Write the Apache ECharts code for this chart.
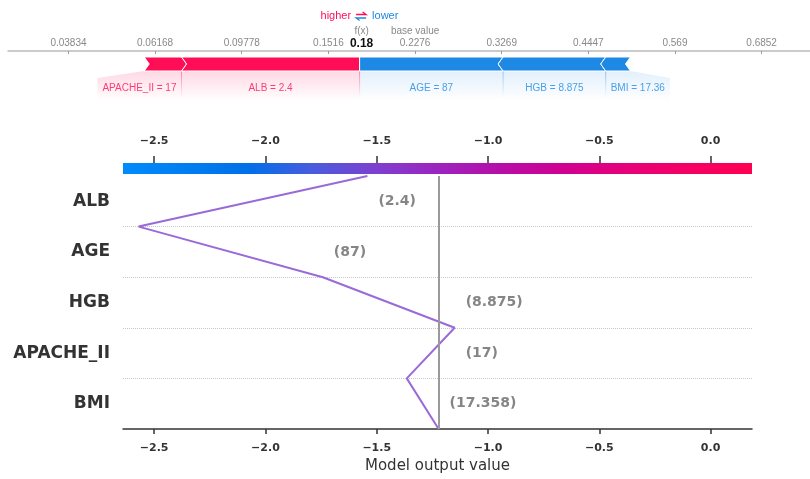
<!DOCTYPE html>
<html>
<head>
<meta charset="utf-8">
<script src="https://cdn.jsdelivr.net/npm/echarts@6/dist/echarts.min.js"></script>
<style>
  html, body { margin: 0; padding: 0; background: #fff; }
  #chart { width: 810px; height: 479px; }
</style>
</head>
<body>
<div id="chart"></div>
<script>
// SHAP explanation of one prediction: force plot (probability scale) over a decision plot (log-odds)
const features = ['ALB', 'AGE', 'HGB', 'APACHE_II', 'BMI'];      // decision plot order, top to bottom
const featureValues = [2.4, 87, 8.875, 17, 17.358];
const shapValues = [1.028, -0.828, -0.592, 0.215, -0.143];       // log-odds contributions
const baseValue = -1.222;                                        // expected model output (log-odds)
const probTicks = [0.03834, 0.06168, 0.09778, 0.1516, 0.2276, 0.3269, 0.4447, 0.569, 0.6852];
const outputTicks = [-2.5, -2.0, -1.5, -1.0, -0.5, 0.0];
const outputRange = [-2.64, 0.186];
const forceRange = [-3.571, 1.057];

const RED = '#ff0d57';
const BLUE = '#1e88e5';
const FONT = '"Liberation Sans", Arial, sans-serif';      // force plot text
const PLOT_FONT = '"DejaVu Sans", sans-serif';            // decision plot text

const sigmoid = v => 1 / (1 + Math.exp(-v));
const logit = p => Math.log(p / (1 - p));
const fmt4 = v => String(parseFloat(v.toPrecision(4)));
const fx = baseValue + shapValues.reduce((a, b) => a + b, 0);

// cumulative decision path, built from the bottom row upwards
const bottomUp = features.map((_, i) => features.length - 1 - i);
const path = [[baseValue, 0]];
let acc = baseValue;
bottomUp.forEach((fi, k) => { acc += shapValues[fi]; path.push([acc, k + 1]); });
const valueLabels = bottomUp.map((fi, k) => [
  Math.max(path[k][0], path[k + 1][0]), k + 0.5, '(' + featureValues[fi] + ')'
]);

// force plot segments: positive ones stack leftwards from f(x), negative ones rightwards
const order = shapValues.map((v, i) => ({ i, v }));
const posSegs = [], negSegs = [];
let cur = fx;
order.filter(d => d.v > 0).sort((a, b) => b.v - a.v).forEach(d => {
  posSegs.push({ lo: cur - d.v, hi: cur, label: features[d.i] + ' = ' + fmt4(featureValues[d.i]) });
  cur -= d.v;
});
cur = fx;
order.filter(d => d.v < 0).sort((a, b) => a.v - b.v).forEach(d => {
  negSegs.push({ lo: cur, hi: cur - d.v, label: features[d.i] + ' = ' + fmt4(featureValues[d.i]) });
  cur -= d.v;
});

const measureCtx = document.createElement('canvas').getContext('2d');
const LABEL_FONT = '10px ' + FONT;
function textWidth(t) { measureCtx.font = LABEL_FONT; return measureCtx.measureText(t).width; }

function fade(color, a0, a1) {
  const c = echarts.color;
  return new echarts.graphic.LinearGradient(0, 0, 0, 1, [
    { offset: 0, color: c.modifyAlpha(color, a0) },
    { offset: 1, color: c.modifyAlpha(color, a1) }
  ]);
}

function renderForce(params, api) {
  const cs = params.coordSys;
  const top = cs.y + 6, bot = cs.y + 20, mid = (top + bot) / 2;
  const tip = 5, regionDepth = 30;
  const px = v => api.coord([v, 0])[0];
  const children = [];
  const fxPx = px(fx);

  // translucent label areas + labels
  let edge = fxPx;
  posSegs.forEach((s) => {
    const a = px(s.lo), b = px(s.hi);
    const w = textWidth(s.label) + 10;
    const right = edge;
    const left = Math.min(a, right - w);
    const pts = [[b, bot], [a, bot]];
    if (left < a) pts.push([left, bot + 7]);
    pts.push([left, bot + regionDepth], [right, bot + regionDepth], [right, bot]);
    children.push({ type: 'polygon', shape: { points: pts }, style: { fill: fade(RED, 0.16, 0) } });
    children.push({ type: 'line', shape: { x1: b, y1: bot, x2: b, y2: bot + 26 },
      style: { stroke: fade(RED, 0.45, 0), lineWidth: 1 } });
    children.push({ type: 'text', style: { text: s.label, x: (left + right) / 2, y: bot + 17,
      fill: RED, opacity: 0.8, font: LABEL_FONT, align: 'center', verticalAlign: 'middle' } });
    edge = left;
  });
  edge = fxPx;
  negSegs.forEach((s, k) => {
    const a = px(s.lo), b = px(s.hi);
    const w = textWidth(s.label) + 10;
    const left = edge;
    const right = Math.max(b, left + w);
    const pts = [[a, bot], [b, bot]];
    if (right > b) pts.push([right, bot + 7]);
    pts.push([right, bot + regionDepth], [left, bot + regionDepth], [left, bot]);
    children.push({ type: 'polygon', shape: { points: pts }, style: { fill: fade(BLUE, 0.13, 0) } });
    if (k > 0) {
      children.push({ type: 'line', shape: { x1: a, y1: bot, x2: a, y2: bot + 26 },
        style: { stroke: fade(BLUE, 0.45, 0), lineWidth: 1 } });
    }
    children.push({ type: 'text', style: { text: s.label, x: (left + right) / 2, y: bot + 17,
      fill: BLUE, opacity: 0.8, font: LABEL_FONT, align: 'center', verticalAlign: 'middle' } });
    edge = right;
  });

  // arrow-shaped bars
  posSegs.forEach((s, k) => {
    const a = px(s.lo), b = px(s.hi);
    const pts = [[a, top], [b, top]];
    if (k > 0) pts.push([b + tip, mid]);
    pts.push([b, bot], [a, bot], [a + tip, mid]);
    children.push({ type: 'polygon', shape: { points: pts },
      style: { fill: RED, stroke: '#fff', lineWidth: 1 } });
  });
  negSegs.forEach((s, k) => {
    const a = px(s.lo), b = px(s.hi);
    const pts = [[a, top], [b, top], [b - tip, mid], [b, bot], [a, bot]];
    if (k > 0) pts.push([a - tip, mid]);
    children.push({ type: 'polygon', shape: { points: pts },
      style: { fill: BLUE, stroke: '#fff', lineWidth: 1 } });
  });

  // f(x) / base value annotations
  children.push({ type: 'text', style: { text: 'f(x)', x: fxPx + 2, y: cs.y - 20, fill: '#888',
    font: '10px ' + FONT, align: 'center', verticalAlign: 'middle' } });
  children.push({ type: 'text', style: { text: sigmoid(fx).toFixed(2), x: fxPx + 2, y: cs.y - 7,
    fill: '#111', font: 'bold 12px ' + FONT, align: 'center', verticalAlign: 'middle' } });
  const bPx = px(baseValue);
  children.push({ type: 'text', style: { text: 'base value', x: bPx, y: cs.y - 20, fill: '#888',
    font: '10px ' + FONT, align: 'center', verticalAlign: 'middle' } });

  // higher / lower legend
  const c = fxPx + 1.5, ly = cs.y - 35;
  children.push({ type: 'text', style: { text: 'higher', x: c - 10, y: ly, fill: RED,
    font: '11px ' + FONT, align: 'right', verticalAlign: 'middle' } });
  children.push({ type: 'text', style: { text: 'lower', x: c + 11, y: ly, fill: BLUE,
    font: '11px ' + FONT, align: 'left', verticalAlign: 'middle' } });
  children.push({ type: 'polyline', shape: { points: [[c - 5, ly - 1.5], [c + 5, ly - 1.5], [c + 1.5, ly - 4]] },
    style: { stroke: RED, lineWidth: 1.3, fill: null } });
  children.push({ type: 'polyline', shape: { points: [[c + 5, ly + 2], [c - 5, ly + 2], [c - 1.5, ly + 4.5]] },
    style: { stroke: BLUE, lineWidth: 1.3, fill: null } });

  return { type: 'group', children };
}

function renderColorBar(params, api) {
  const cs = params.coordSys;
  const x0 = api.coord([outputRange[0], 0])[0];
  const x1 = api.coord([outputRange[1], 0])[0];
  return {
    type: 'rect',
    shape: { x: x0, y: cs.y, width: x1 - x0, height: cs.height },
    style: {
      fill: new echarts.graphic.LinearGradient(0, 0, 1, 0, [
        { offset: 0.00, color: 'rgb(0,139,251)' },
        { offset: 0.20, color: 'rgb(0,112,232)' },
        { offset: 0.30, color: 'rgb(72,92,222)' },
        { offset: 0.40, color: 'rgb(126,64,208)' },
        { offset: 0.50, color: 'rgb(156,36,190)' },
        { offset: 0.60, color: 'rgb(182,14,168)' },
        { offset: 0.70, color: 'rgb(208,0,146)' },
        { offset: 0.80, color: 'rgb(230,0,122)' },
        { offset: 0.90, color: 'rgb(245,0,100)' },
        { offset: 1.00, color: 'rgb(255,0,81)' }
      ])
    }
  };
}

const outputLabel = v => (v < 0 ? '\u2212' : '') + Math.abs(v).toFixed(1);
const probTickPos = probTicks.map(logit);
const probLabel = v => {
  let best = 0;
  probTickPos.forEach((p, i) => { if (Math.abs(p - v) < Math.abs(probTickPos[best] - v)) best = i; });
  return String(probTicks[best]);
};

const tickLabelStyle = { formatter: outputLabel, color: '#333', fontFamily: PLOT_FONT,
  fontSize: 11, fontWeight: 'bold' };

const chart = echarts.init(document.getElementById('chart'), null, { renderer: 'canvas' });
chart.setOption({
  animation: false,
  backgroundColor: '#fff',
  textStyle: { fontFamily: FONT },
  grid: [
    { left: 123, right: 58, top: 176, bottom: 50, outerBoundsMode: 'none' },
    { left: 123, right: 58, top: 163, height: 11, outerBoundsMode: 'none' },
    { left: 8, right: 0, top: 51, height: 50, outerBoundsMode: 'none' }
  ],
  xAxis: [
    {
      gridIndex: 0, type: 'value', min: outputRange[0], max: outputRange[1],
      axisLine: { onZero: false, lineStyle: { color: '#333', width: 1.5 } },
      axisTick: { customValues: outputTicks, length: 5, lineStyle: { color: '#333', width: 1.5 } },
      axisLabel: Object.assign({ customValues: outputTicks, margin: 14 }, tickLabelStyle),
      splitLine: { show: false },
      name: 'Model output value', nameLocation: 'middle', nameGap: 30,
      nameTextStyle: { color: '#333', fontSize: 15, fontFamily: PLOT_FONT }
    },
    {
      gridIndex: 1, type: 'value', position: 'top', min: outputRange[0], max: outputRange[1],
      axisLine: { show: false, onZero: false },
      axisTick: { customValues: outputTicks, length: 7, lineStyle: { color: '#333', width: 1.5 } },
      axisLabel: Object.assign({ customValues: outputTicks, margin: 16 }, tickLabelStyle),
      splitLine: { show: false }
    },
    {
      gridIndex: 2, type: 'value', position: 'top', min: forceRange[0], max: forceRange[1],
      axisLine: { onZero: false, lineStyle: { color: '#bbb', width: 1.5 } },
      axisTick: { customValues: probTickPos, inside: true, length: 3, lineStyle: { color: '#999' } },
      axisLabel: { customValues: probTickPos, formatter: probLabel, color: '#888', fontSize: 10, margin: 3 },
      splitLine: { show: false }
    }
  ],
  yAxis: [
    {
      gridIndex: 0, type: 'value', position: 'left', min: 0, max: features.length, interval: 1,
      axisLine: { show: false }, axisTick: { show: false }, axisLabel: { show: false },
      splitLine: { show: true, lineStyle: { type: 'dotted', width: 1,
        color: ['transparent', '#c8c8c8', '#c8c8c8', '#c8c8c8', '#c8c8c8', 'transparent'] } }
    },
    {
      gridIndex: 0, type: 'category', position: 'left', data: bottomUp.map(i => features[i]),
      axisLine: { show: false }, axisTick: { show: false },
      axisLabel: { color: '#333', fontFamily: PLOT_FONT, fontSize: 17, fontWeight: 'bold', margin: 13 },
      splitLine: { show: false }
    },
    { gridIndex: 1, type: 'value', show: false, min: 0, max: 1 },
    { gridIndex: 2, type: 'value', show: false, min: 0, max: 1 }
  ],
  series: [
    {
      type: 'line', xAxisIndex: 0, yAxisIndex: 0, data: path, symbol: 'none', z: 3,
      lineStyle: { color: '#9a6ad8', width: 2 },
      markLine: {
        silent: true, symbol: 'none', label: { show: false },
        lineStyle: { color: '#9a9a9a', width: 2, type: 'solid' },
        data: [{ xAxis: baseValue }]
      }
    },
    {
      type: 'scatter', xAxisIndex: 0, yAxisIndex: 0, symbolSize: 0, data: valueLabels,
      label: { show: true, position: 'right', distance: 11, formatter: p => p.value[2],
        color: '#666', fontFamily: PLOT_FONT, fontSize: 14, fontWeight: 'bold' }
    },
    { type: 'custom', xAxisIndex: 1, yAxisIndex: 2, data: [[0, 0]], renderItem: renderColorBar, silent: true },
    { type: 'custom', xAxisIndex: 2, yAxisIndex: 3, data: [[0, 0]], renderItem: renderForce, silent: true }
  ]
});
</script>
</body>
</html>
